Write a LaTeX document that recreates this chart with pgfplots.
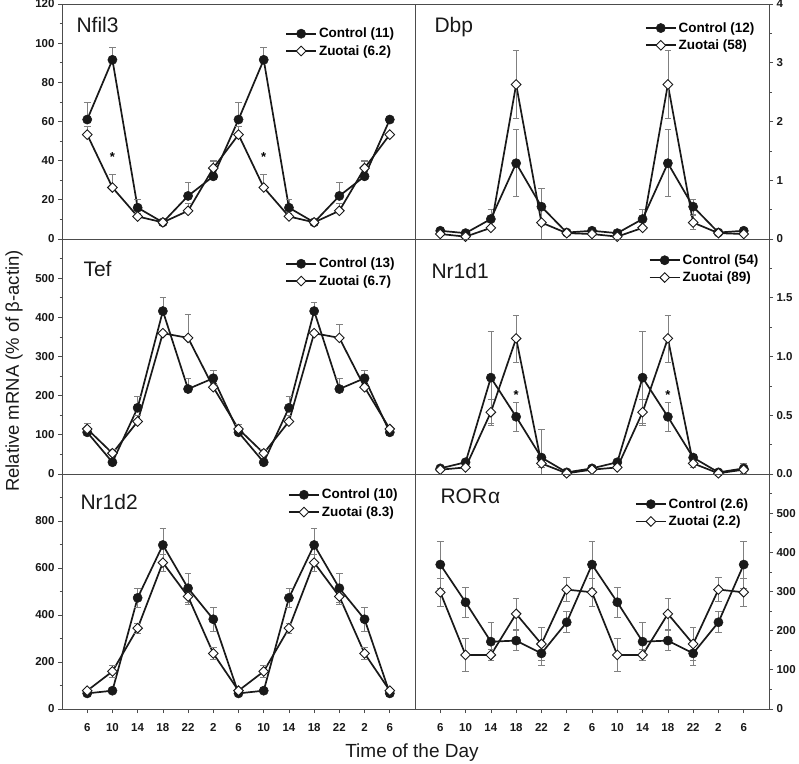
\documentclass[border=0pt]{standalone}
\usepackage{fontspec}
\setmainfont{Liberation Sans}
\usepackage{pgfplots}
\pgfplotsset{compat=1.18}
\usepackage{pgfplotstable}

\pgfplotstableread{
x c cp cm z zp zm
0 61 8.6 0 53.3 4 0
1 91.5 6.5 0 26.3 6.7 0
2 16 4.3 0 11.5 1.5 0
3 8.5 1.2 0 8.5 1 0
4 22 6.8 0 14.4 4 0
5 32 8.2 0 36.2 3.5 0
6 61 8.6 0 53.3 4 0
7 91.5 6.5 0 26.3 6.7 0
8 16 4.3 0 11.5 1.5 0
9 8.5 1.2 0 8.5 1 0
10 22 6.8 0 14.4 4 0
11 32 8.2 0 36.2 3.5 0
12 61 0 0 53.3 0 0
}\nfil

\pgfplotstableread{
x c cp cm z zp zm
0 0.14 0.03 0.03 0.085 0.02 0.02
1 0.10 0.03 0.03 0.04 0.02 0.02
2 0.34 0.16 0.16 0.19 0.03 0.03
3 1.29 0.57 0.57 2.63 0.58 0.58
4 0.55 0.32 0.32 0.28 0.28 0.28
5 0.11 0.03 0.03 0.10 0.03 0.03
6 0.14 0.03 0.03 0.085 0.02 0.02
7 0.10 0.03 0.03 0.04 0.02 0.02
8 0.34 0.16 0.16 0.19 0.03 0.03
9 1.29 0.57 0.57 2.63 0.58 0.58
10 0.55 0.13 0.13 0.28 0.12 0.12
11 0.11 0.03 0.03 0.10 0.03 0.03
12 0.14 0.03 0.03 0.085 0.02 0.02
}\dbp

\pgfplotstableread{
x c cp cm z zp zm
0 106.5 8 0 115 14 0
1 30 8 0 53 11 0
2 169 30 0 134 15 0
3 416 35 0 359.5 8 0
4 217 26 0 347.5 59 0
5 244.5 20 0 221.5 8 0
6 106.5 8 0 115 12 0
7 30 8 0 53 11 0
8 169 30 0 134 15 0
9 416 23 0 359.5 8 0
10 217 26 0 347.5 34 0
11 244.5 20 0 221.5 8 0
12 106.5 0 0 115 0 0
}\tef

\pgfplotstableread{
x c cp cm z zp zm
0 0.048 0.02 0.02 0.037 0.01 0.01
1 0.10 0.02 0.02 0.056 0.01 0.01
2 0.82 0.39 0.39 0.526 0.11 0.11
3 0.487 0.12 0.12 1.154 0.2 0.2
4 0.14 0.24 0.14 0.09 0.03 0.03
5 0.014 0.01 0.01 0.006 0.005 0.005
6 0.048 0.02 0.02 0.037 0.01 0.01
7 0.10 0.02 0.02 0.056 0.01 0.01
8 0.82 0.39 0.39 0.526 0.11 0.11
9 0.487 0.12 0.12 1.154 0.2 0.2
10 0.14 0.03 0.03 0.09 0.03 0.03
11 0.014 0.01 0.01 0.006 0.005 0.005
12 0.048 0.04 0.04 0.037 0.01 0.01
}\nrone

\pgfplotstableread{
x c cp cm z zp zm
0 66.5 8 8 78 10 10
1 78 8 8 160 24 24
2 473 40 40 344 22 22
3 698 69 69 623 36 36
4 514 62 62 478.6 35 35
5 382 50 50 236.5 24 24
6 66.5 8 8 78 10 10
7 78 8 8 160 24 24
8 473 40 40 344 22 22
9 698 69 69 623 36 36
10 514 62 62 478.6 35 35
11 382 50 50 236.5 24 24
12 66.5 8 8 78 10 10
}\nrtwo

\pgfplotstableread{
x c cp cm z zp zm
0 368.8 60 60 298 36 36
1 272.6 38 38 138 43 43
2 172 48 48 138 14 14
3 174.6 26 26 243 40 40
4 142 31 31 166 42 42
5 221.5 27 27 305 31 31
6 368.8 60 60 298 36 36
7 272.6 38 38 138 43 43
8 172 48 48 138 14 14
9 174.6 26 26 243 40 40
10 142 31 31 166 42 42
11 221.5 27 27 305 31 31
12 368.8 60 60 298 36 36
}\rora

\pgfplotsset{
  panel/.style={
    scale only axis, height=235pt, xmin=-1, xmax=13,
    axis line style={draw=black!70, line width=0.8pt},
    tick style={draw=black!70, line width=0.7pt},
    tick align=outside, major tick length=4pt, minor tick length=2.5pt,
    minor y tick num=1,
    ticklabel style={font=\bfseries\fontsize{11.5}{11.5}\selectfont, text=black!90},
    /pgf/number format/assume math mode=true,
    xtick=\empty, clip=false,
    legend cell align=left,
    legend style={draw=none, fill=none, inner sep=0pt,
      font=\bfseries\fontsize{13.5}{14}\selectfont, row sep=2pt,
      anchor=north west},
    legend image code/.code={\draw[mark repeat=2,mark phase=2,##1] plot coordinates {(0pt,0pt) (15pt,0pt) (30pt,0pt)};},
  },
  leftpanel/.style={panel, width=353pt, ytick pos=left, yticklabel pos=left},
  rightpanel/.style={panel, width=354pt, ytick pos=right, yticklabel pos=right},
  bottompanel/.style={xtick={0,...,12}, xticklabels={6,10,14,18,22,2,6,10,14,18,22,2,6},
    xtick pos=left, xticklabel style={yshift=-7pt}},
  ctrl/.style={draw=black!90, line width=1.7pt, mark=*, mark size=4.6pt,
    mark options={solid, fill=black!90, draw=black!90, line width=0.5pt},
    error bars/.cd, y dir=both, y explicit,
    error bar style={draw=black!50, line width=0.7pt},
    error mark options={rotate=90, mark size=3.3pt, draw=black!50, line width=0.7pt}},
  zuo/.style={draw=black!90, line width=1.7pt, mark=square*, mark size=3.4pt,
    mark options={solid, rotate=45, fill=white, draw=black!90, line width=0.9pt},
    error bars/.cd, y dir=both, y explicit,
    error bar style={draw=black!50, line width=0.7pt},
    error mark options={rotate=90, mark size=3.3pt, draw=black!50, line width=0.7pt}},
}

\newcommand{\ttl}{\fontsize{21}{21}\selectfont}

\begin{document}
\begin{tikzpicture}
\path[use as bounding box] (0pt,0pt) rectangle (799pt,-763pt);

% Nfil3
\begin{axis}[leftpanel, at={(62pt,-4pt)}, anchor=north west,
  ymin=0, ymax=120, ytick={0,20,...,120}, yticklabels={0,20,40,60,80,100,120},
  legend style={at={(0.632,0.907)}}]
\addplot[ctrl] table[x=x, y=c, y error plus=cp, y error minus=cm] {\nfil};
\addplot[zuo] table[x=x, y=z, y error plus=zp, y error minus=zm] {\nfil};
\legend{Control (11), Zuotai (6.2)}
\node[font=\bfseries\fontsize{13}{13}\selectfont] at (axis cs:1,42) {*};
\node[font=\bfseries\fontsize{13}{13}\selectfont] at (axis cs:7,42) {*};
\end{axis}

% Dbp
\begin{axis}[rightpanel, at={(415pt,-4pt)}, anchor=north west,
  ymin=0, ymax=4, ytick={0,1,2,3,4}, yticklabels={0,1,2,3,4},
  legend style={at={(0.649,0.931)}}]
\addplot[ctrl] table[x=x, y=c, y error plus=cp, y error minus=cm] {\dbp};
\addplot[zuo] table[x=x, y=z, y error plus=zp, y error minus=zm] {\dbp};
\legend{Control (12), Zuotai (58)}
\end{axis}

% Tef
\begin{axis}[leftpanel, at={(62pt,-239pt)}, anchor=north west,
  ymin=0, ymax=600, ytick={0,100,...,600}, yticklabels={0,100,200,300,400,500,{}},
  legend style={at={(0.632,0.928)}}]
\addplot[ctrl] table[x=x, y=c, y error plus=cp, y error minus=cm] {\tef};
\addplot[zuo] table[x=x, y=z, y error plus=zp, y error minus=zm] {\tef};
\legend{Control (13), Zuotai (6.7)}
\end{axis}

% Nr1d1
\begin{axis}[rightpanel, at={(415pt,-239pt)}, anchor=north west,
  ymin=0, ymax=2, ytick={0,0.5,...,2}, yticklabels={0.0,0.5,1.0,1.5,{}},
  legend style={at={(0.66,0.943)}}]
\addplot[ctrl] table[x=x, y=c, y error plus=cp, y error minus=cm] {\nrone};
\addplot[zuo] table[x=x, y=z, y error plus=zp, y error minus=zm] {\nrone};
\legend{Control (54), Zuotai (89)}
\node[font=\bfseries\fontsize{13}{13}\selectfont] at (axis cs:3,0.67) {*};
\node[font=\bfseries\fontsize{13}{13}\selectfont] at (axis cs:9,0.67) {*};
\end{axis}

% Nr1d2
\begin{axis}[leftpanel, bottompanel, at={(62pt,-474pt)}, anchor=north west,
  ymin=0, ymax=1000, ytick={0,200,...,1000}, yticklabels={0,200,400,600,800,{}},
  legend style={at={(0.64,0.945)}}]
\addplot[ctrl] table[x=x, y=c, y error plus=cp, y error minus=cm] {\nrtwo};
\addplot[zuo] table[x=x, y=z, y error plus=zp, y error minus=zm] {\nrtwo};
\legend{Control (10), Zuotai (8.3)}
\end{axis}

% RORa
\begin{axis}[rightpanel, bottompanel, at={(415pt,-474pt)}, anchor=north west,
  ymin=0, ymax=600, ytick={0,100,...,600}, yticklabels={0,100,200,300,400,500,{}},
  legend style={at={(0.621,0.905)}}]
\addplot[ctrl] table[x=x, y=c, y error plus=cp, y error minus=cm] {\rora};
\addplot[zuo] table[x=x, y=z, y error plus=zp, y error minus=zm] {\rora};
\legend{Control (2.6), Zuotai (2.2)}
\end{axis}

% titles
\node[anchor=base west, font=\ttl, text=black!90] at (73pt,-32pt) {Nfil3};
\node[anchor=base west, font=\ttl, text=black!90] at (431pt,-32pt) {Dbp};
\node[anchor=base west, font=\ttl, text=black!90] at (80pt,-276pt) {Tef};
\node[anchor=base west, font=\ttl, text=black!90] at (428pt,-278pt) {Nr1d1};
\node[anchor=base west, font=\ttl, text=black!90] at (77pt,-509pt) {Nr1d2};
\node[anchor=base west, font=\ttl, text=black!90] at (437pt,-503pt) {ROR\kern1pt α};

% axis labels
\node[rotate=90, font=\fontsize{18.5}{18.5}\selectfont, text=black!90] at (14pt,-371pt) {Relative mRNA (\% of β-actin)};
\node[anchor=base, font=\fontsize{19}{19}\selectfont, text=black!90] at (412pt,-757pt) {Time of the Day};
\end{tikzpicture}
\end{document}
